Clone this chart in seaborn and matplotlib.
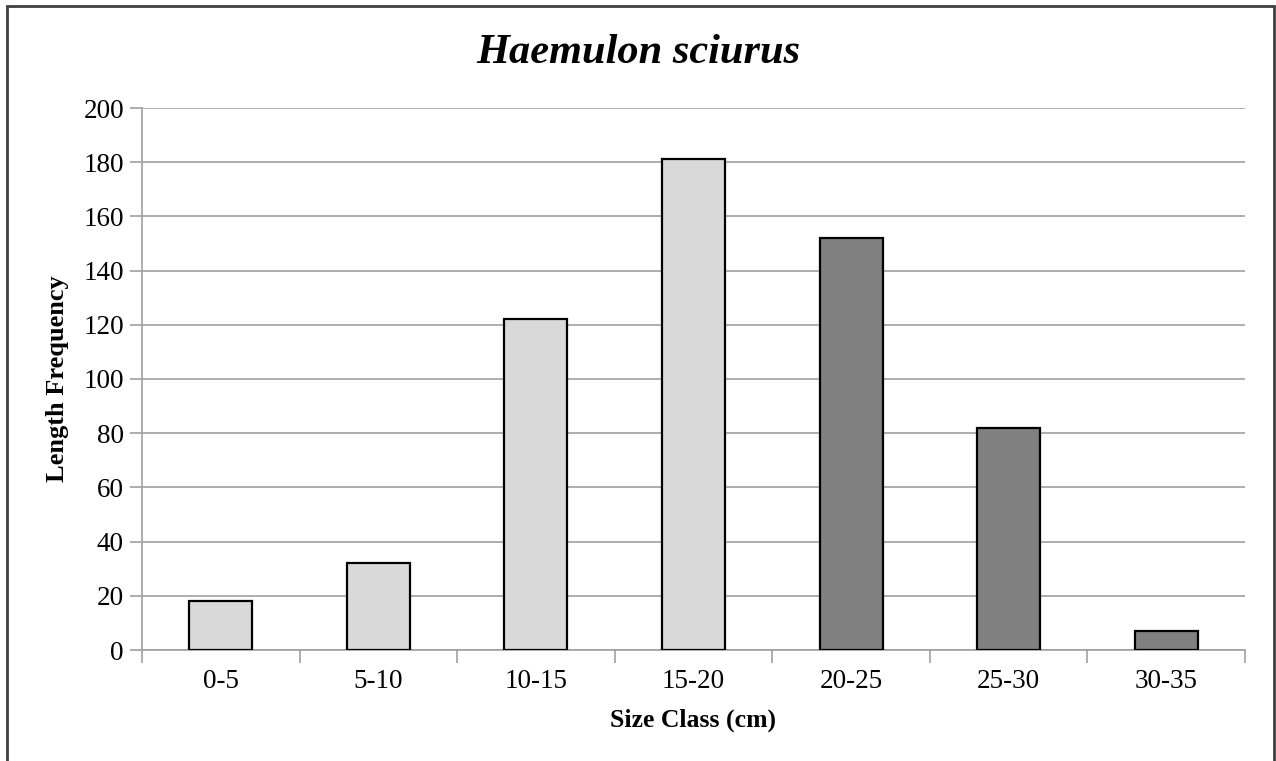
import matplotlib
matplotlib.use("Agg")
import matplotlib.pyplot as plt
import seaborn as sns
import pandas as pd
import numpy as np
from matplotlib.patches import Rectangle

categories = ["0-5", "5-10", "10-15", "15-20", "20-25", "25-30", "30-35"]
frequency = [18, 32, 122, 181, 152, 82, 7]
bar_colors = ["#D9D9D9", "#D9D9D9", "#D9D9D9", "#D9D9D9", "#808080", "#808080", "#808080"]
y_ticks = [0, 20, 40, 60, 80, 100, 120, 140, 160, 180, 200]

sns.set_theme(style="white")
plt.rcParams['font.family'] = ['Liberation Serif', 'DejaVu Serif']
plt.rcParams['text.color'] = 'black'
plt.rcParams['axes.labelcolor'] = 'black'
plt.rcParams['xtick.color'] = 'black'
plt.rcParams['ytick.color'] = 'black'

df = pd.DataFrame({"cls": categories, "freq": frequency})

fig = plt.figure(figsize=(12.76, 7.61), dpi=100)
ax = fig.add_axes([142/1276, 1-650/761, (1245-142)/1276, (650-108)/761])

sns.barplot(data=df, x="cls", y="freq", hue="cls", palette=bar_colors,
            order=categories, hue_order=categories, width=0.4, legend=False,
            edgecolor="black", linewidth=1.6, saturation=1, ax=ax, zorder=3)

ax.set_xlim(-0.5, len(categories) - 0.5)
ax.set_ylim(0, 200)
ax.set_yticks(y_ticks)
ax.set_yticklabels([str(v) for v in y_ticks], fontsize=19.5, color="black")
ax.yaxis.grid(True, color="#A0A0A0", linewidth=1.2, zorder=0)
ax.xaxis.grid(False)
ax.set_axisbelow(True)

ax.set_xticks(range(len(categories)))
ax.set_xticklabels(categories, fontsize=19.5, color="black")
ax.set_xticks(np.arange(-0.5, len(categories), 1.0), minor=True)
ax.tick_params(axis="x", which="major", length=0, pad=14, labelcolor="black")
ax.tick_params(axis="x", which="minor", length=9, width=1.2, color="#A0A0A0", direction="out", bottom=True)
ax.tick_params(axis="y", which="major", length=9, width=1.2, color="#A0A0A0", direction="out", left=True, pad=4, labelcolor="black")

for s in ["top", "right"]:
    ax.spines[s].set_visible(False)
for s in ["left", "bottom"]:
    ax.spines[s].set_color("#A0A0A0")
    ax.spines[s].set_linewidth(1.2)

ax.set_xlabel("Size Class (cm)", fontsize=18.5, fontweight="bold", labelpad=10, color="black")
ax.set_ylabel("Length Frequency", fontsize=19, fontweight="bold", labelpad=10, color="black")

fig.text(0.5, 1 - 53/761, "Haemulon sciurus", ha="center", va="center",
         fontsize=30.5, fontweight="bold", fontstyle="italic", color="black")

border = Rectangle((7/1276, -0.05), (1274-7)/1276, 1 - 6/761 + 0.05,
                   transform=fig.transFigure, fill=False, edgecolor="#404040",
                   linewidth=2, zorder=10)
fig.patches.append(border)

fig.savefig("out.png", dpi=100)
